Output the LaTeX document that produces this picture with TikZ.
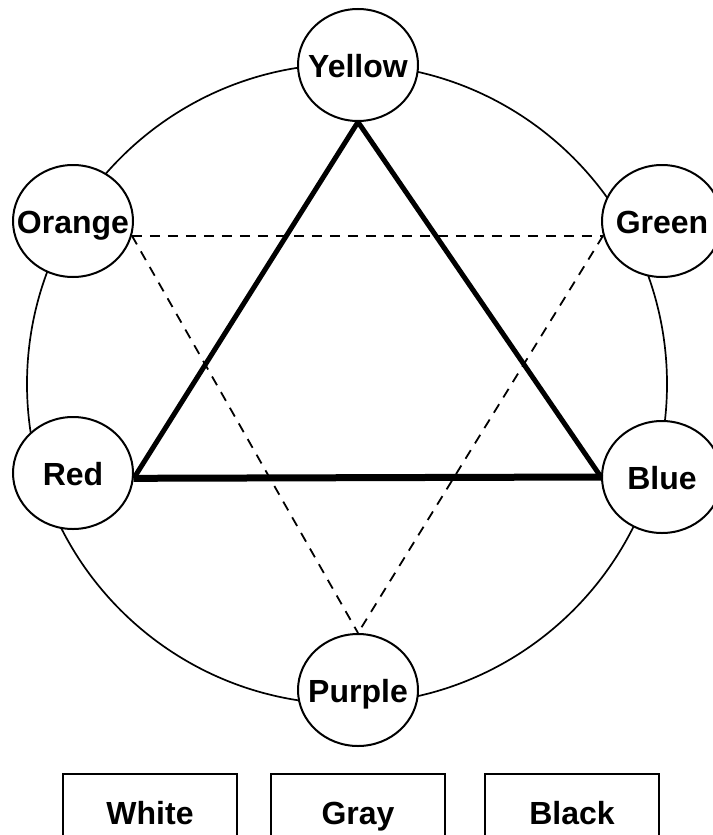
\documentclass[tikz,border=0pt]{standalone}
\usepackage{fontspec}
\setmainfont{Liberation Sans}
\usetikzlibrary{shapes.geometric}
\newcommand{\hueName}[1]{\makebox[0pt][c]{#1}}

\begin{document}
\begin{tikzpicture}[x=1pt,y=-1pt,
  hue/.style={ellipse, draw, line width=2pt, fill=white, inner sep=0pt,
    minimum width=120pt, minimum height=112pt, text height=30pt, text depth=6pt,
    font={\fontsize{32}{38}\selectfont\bfseries}},
  shade/.style={rectangle, draw, line width=2pt, fill=white, inner sep=0pt,
    minimum width=174pt, minimum height=78pt, text height=28pt, text depth=6pt,
    font={\fontsize{32}{38}\selectfont\bfseries}},
  primary/.style={line width=5pt, line join=miter},
  secondary/.style={line width=1.8pt, dash pattern=on 10pt off 8pt}]
\useasboundingbox (0,0) rectangle (712,835);
\draw[line width=1.7pt] (347,384) circle[radius=320];
\node[hue] (yellow) at (358,65) {\hueName{Yellow}};
\node[hue] (orange) at (73,221) {\hueName{Orange}};
\node[hue] (green) at (662,221) {\hueName{Green}};
\node[hue] (red) at (73,473) {\hueName{Red}};
\node[hue] (blue) at (662,477) {\hueName{Blue}};
\node[hue] (purple) at (358,690) {\hueName{Purple}};
\draw[primary] (red.-5) -- (yellow.south);
\draw[primary] (yellow.south) -- (blue.west);
\draw[primary, line width=7pt] (red.-5) -- (blue.west);
\draw[secondary] (orange.-14) -- (green.-166);
\draw[secondary] (orange.-14) -- (purple.north);
\draw[secondary] (green.-166) -- (purple.north);
\node[shade] (white) at (150,813) {White};
\node[shade] (gray) at (358,813) {Gray};
\node[shade] (black) at (572,813) {Black};
\end{tikzpicture}
\end{document}
